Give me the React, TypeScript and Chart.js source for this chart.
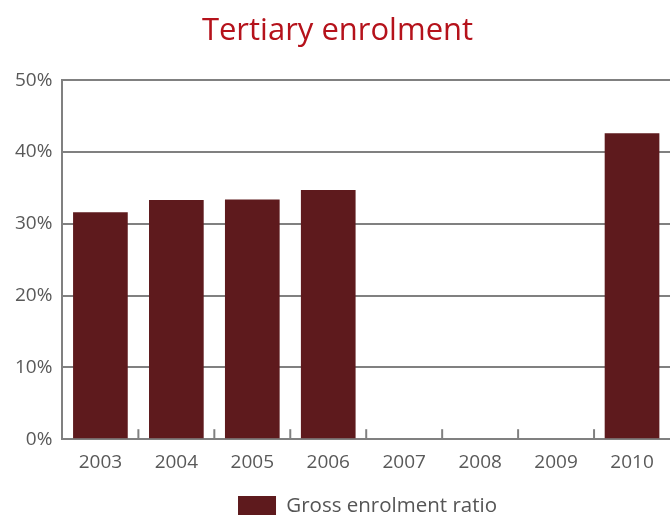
import React, { useEffect, useRef } from "react";
import { Chart, registerables } from "chart.js";

Chart.register(...registerables);

const categories = ["2003", "2004", "2005", "2006", "2007", "2008", "2009", "2010"];
const grossEnrolment: (number | null)[] = [31.6, 33.3, 33.4, 34.7, null, null, null, 42.6];
const yTicks = [0, 10, 20, 30, 40, 50];

const innerTicks = {
  id: "innerTicks",
  afterLayout(chart: any) {
    if (chart.legend) chart.legend.left += 60;
  },
  afterDatasetsDraw(chart: any) {
    const { ctx, scales } = chart;
    const x = scales.x;
    const y = scales.y;
    const bottom = y.getPixelForValue(0);
    ctx.save();
    ctx.strokeStyle = "#808080";
    ctx.lineWidth = 2;
    for (let i = 1; i < categories.length; i++) {
      const px = (x.getPixelForValue(i - 1) + x.getPixelForValue(i)) / 2;
      ctx.beginPath();
      ctx.moveTo(px, bottom);
      ctx.lineTo(px, bottom - 10);
      ctx.stroke();
    }
    ctx.restore();
  },
};

export default function App() {
  const ref = useRef<HTMLCanvasElement | null>(null);
  useEffect(() => {
    const chart = new Chart(ref.current as HTMLCanvasElement, {
      type: "bar",
      data: {
        labels: categories,
        datasets: [
          {
            label: "Gross enrolment ratio",
            data: grossEnrolment,
            backgroundColor: "#5e1a1d",
            categoryPercentage: 1,
            barPercentage: 0.72,
          },
        ],
      },
      options: {
        animation: false,
        responsive: false,
        layout: { padding: { left: 5, right: 0, top: 0, bottom: -12 } },
        plugins: {
          title: {
            display: true,
            text: "Tertiary enrolment",
            color: "#b5121b",
            font: { family: "'Open Sans'", size: 31, weight: "normal" },
            padding: { top: 13, bottom: 30 },
          },
          legend: {
            position: "bottom",
            labels: {
              boxWidth: 38,
              boxHeight: 21,
              color: "#555555",
              font: { family: "'Open Sans'", size: 20.5 },
              padding: 12,
            },
          },
          tooltip: { enabled: false },
        },
        scales: {
          y: {
            min: 0,
            max: 50,
            afterBuildTicks(axis: any) {
              axis.ticks = yTicks.map((v) => ({ value: v }));
            },
            ticks: {
              callback: (v: any) => v + "%",
              color: "#595959",
              font: { family: "'Open Sans'", size: 19 },
              padding: 10,
            },
            grid: { color: "#808080", lineWidth: 2, drawTicks: false },
            border: { color: "#808080", width: 2 },
          },
          x: {
            afterFit(axis: any) {
              axis.height += 6;
            },
            ticks: {
              color: "#595959",
              font: { family: "'Open Sans'", size: 19 },
              padding: 4,
            },
            grid: { display: false },
            border: { color: "#808080", width: 2 },
          },
        },
      },
      plugins: [innerTicks],
    });
    return () => chart.destroy();
  }, []);
  return (
    <div style={{ position: "absolute", left: 0, top: 0, width: 670, height: 515 }}>
      <canvas ref={ref} width={670} height={515} />
    </div>
  );
}
